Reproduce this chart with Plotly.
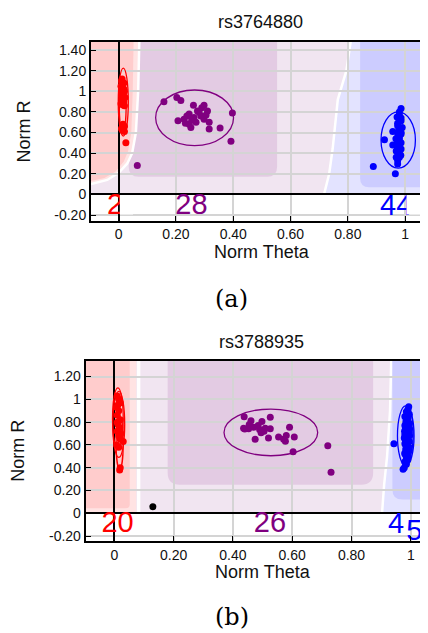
import plotly.graph_objects as go

# page has an 8px body margin: figure is drawn at (8,8) of a 428x633 window
OFF = 8
W, H = 428 - OFF, 633 - OFF

# ---------------- Panel (a): rs3764880 ----------------
A_TITLE = "rs3764880"
A_AA_X = [0.012, 0.018, 0.008, 0.015, 0.020, 0.010, 0.016, 0.022, 0.012, 0.018, 0.008, 0.014, 0.020,
          0.010, 0.016, 0.012, 0.018, 0.015, 0.020, 0.010, 0.014, 0.018, 0.012, 0.020, 0.025]
A_AA_Y = [1.12, 1.08, 1.05, 1.03, 1.00, 0.98, 0.96, 0.94, 0.92, 0.90, 0.88, 0.87, 0.86,
          1.10, 0.95, 0.99, 1.02, 0.68, 0.66, 0.64, 0.62, 0.65, 0.63, 0.61, 0.50]
A_AB_X = [0.158, 0.203, 0.217, 0.261, 0.298, 0.246, 0.275, 0.310, 0.207, 0.228, 0.246, 0.263, 0.287, 0.298,
          0.316, 0.316, 0.252, 0.354, 0.397, 0.392, 0.238, 0.281, 0.270, 0.233, 0.290, 0.255, 0.305, 0.065]
A_AB_Y = [0.900, 0.940, 0.910, 0.866, 0.866, 0.780, 0.810, 0.810, 0.715, 0.730, 0.680, 0.745, 0.760, 0.730,
          0.700, 0.634, 0.650, 0.644, 0.790, 0.515, 0.760, 0.795, 0.700, 0.690, 0.840, 0.720, 0.770, 0.280]
A_BB_X = [0.986, 0.980, 0.980, 0.986, 0.986, 0.974, 0.974, 0.980, 0.957, 0.986, 0.986, 0.980, 0.928, 0.980,
          0.974, 0.986, 0.957, 0.974, 0.986, 0.969, 0.980, 0.969, 0.980, 0.974, 0.974, 0.966, 0.889, 0.980,
          0.975, 0.990, 0.968, 0.985, 0.972, 0.978]
A_BB_Y = [0.834, 0.800, 0.770, 0.740, 0.714, 0.690, 0.666, 0.640, 0.610, 0.600, 0.586, 0.560, 0.531, 0.538,
          0.520, 0.500, 0.480, 0.467, 0.440, 0.420, 0.400, 0.360, 0.360, 0.330, 0.296, 0.200, 0.270, 0.460,
          0.580, 0.650, 0.540, 0.380, 0.750, 0.620]
A_COUNTS = ["2", "28", "44"]
# ellipses: centre x, centre y, half width, half height
A_ELL_CX = [0.016, 0.014, 0.265, 0.976]
A_ELL_CY = [0.896, 0.870, 0.743, 0.528]
A_ELL_RX = [0.0175, 0.012, 0.136, 0.060]
A_ELL_RY = [0.330, 0.270, 0.270, 0.273]
A_ELL_COL = ["red", "red", "purple", "blue"]

# ---------------- Panel (b): rs3788935 ----------------
B_TITLE = "rs3788935"
B_AA_X = [0.010, 0.015, 0.020, 0.008, 0.015, 0.010, 0.020, 0.012, 0.018, 0.010,
          0.015, 0.020, 0.008, 0.030, 0.015, 0.020, 0.018, 0.012, 0.022, 0.010]
B_AA_Y = [1.03, 1.00, 0.97, 0.93, 0.90, 0.86, 0.82, 0.78, 0.75, 0.72,
          0.68, 0.65, 0.60, 0.63, 0.58, 0.40, 0.38, 0.95, 0.70, 0.80]
B_AB_X = [0.438, 0.461, 0.498, 0.526, 0.436, 0.453, 0.470, 0.490, 0.509, 0.526, 0.495, 0.475, 0.520,
          0.554, 0.571, 0.591, 0.580, 0.607, 0.603, 0.720, 0.731, 0.455, 0.485, 0.505, 0.577, 0.440]
B_AB_Y = [0.848, 0.813, 0.805, 0.842, 0.747, 0.741, 0.756, 0.735, 0.747, 0.741, 0.707, 0.649, 0.661,
          0.670, 0.649, 0.756, 0.683, 0.670, 0.540, 0.592, 0.360, 0.780, 0.770, 0.720, 0.632, 0.740]
B_BB_X = [0.993, 0.990, 0.985, 0.995, 0.980, 0.990, 0.985, 0.995, 0.980, 0.990, 0.985, 0.995, 0.980,
          0.990, 0.985, 0.995, 0.980, 0.990, 0.985, 0.995, 0.980, 0.990, 0.985, 0.990, 0.980, 0.985,
          0.974, 0.943, 0.978, 0.992, 0.988, 0.983, 0.996, 0.979, 0.987, 0.991, 0.982, 0.994, 0.978,
          0.986, 0.990, 0.983, 0.996, 0.980, 0.988]
B_BB_Y = [0.934, 0.910, 0.890, 0.870, 0.850, 0.830, 0.810, 0.790, 0.770, 0.750, 0.730, 0.710, 0.690,
          0.670, 0.650, 0.630, 0.610, 0.590, 0.570, 0.550, 0.530, 0.510, 0.490, 0.470, 0.450, 0.430,
          0.387, 0.610, 0.400, 0.760, 0.640, 0.560, 0.680, 0.720, 0.840, 0.500, 0.620, 0.580, 0.660,
          0.800, 0.900, 0.460, 0.740, 0.520, 0.700]
B_NC_X = [0.130]
B_NC_Y = [0.058]
B_COUNTS = ["20", "26", "4", "5"]
B_ELL_CX = [0.012, 0.018, 0.015, 0.528, 0.983, 0.990]
B_ELL_CY = [0.830, 0.620, 0.780, 0.710, 0.680, 0.700]
B_ELL_RX = [0.018, 0.012, 0.020, 0.158, 0.028, 0.018]
B_ELL_RY = [0.270, 0.230, 0.290, 0.205, 0.263, 0.220]
B_ELL_COL = ["red", "red", "red", "purple", "blue", "blue"]

X_TICKS = [0, 0.2, 0.4, 0.6, 0.8, 1]
X_LABELS = ["0", "0.20", "0.40", "0.60", "0.80", "1"]
A_Y_TICKS = [-0.2, 0, 0.2, 0.4, 0.6, 0.8, 1, 1.2, 1.4]
A_Y_LABELS = ["-0.20", "0", "0.20", "0.40", "0.60", "0.80", "1", "1.20", "1.40"]
B_Y_TICKS = [-0.2, 0, 0.2, 0.4, 0.6, 0.8, 1, 1.2]
B_Y_LABELS = ["-0.20", "0", "0.20", "0.40", "0.60", "0.80", "1", "1.20"]

# ---------------- layout geometry (reference pixel coords) ----------------
def px_x(px):
    return (px - OFF) / W

def px_y(py):
    return 1 - (py - OFF) / H

A_XR = [-0.0967, 1.080]
A_YR = [-0.255, 1.483]
B_XR = [-0.0965, 1.058]
B_YR = [-0.247, 1.340]
A_DOM_X = [px_x(91), 1.0]
A_DOM_Y = [px_y(221.7), px_y(41.7)]
B_DOM_X = [px_x(85.7), 1.0]
B_DOM_Y = [px_y(544), px_y(362.3)]

def scale(xr, yr, dx, dy):
    return (W * (dx[1] - dx[0])) / (xr[1] - xr[0]), (H * (dy[1] - dy[0])) / (yr[1] - yr[0])

A_SX, A_SY = scale(A_XR, A_YR, A_DOM_X, A_DOM_Y)
B_SX, B_SY = scale(B_XR, B_YR, B_DOM_X, B_DOM_Y)

RED_BG = "#FFCCCC"
PINK_BG = "#FFE3E3"
PURPLE_BG = "#E3CBE3"
LAV_BG = "#F1E5F1"
BLUE_BG = "#CCCCFF"
LBLUE_BG = "#E3E3FF"

FONT = "Liberation Sans, Arial, sans-serif"

shapes = []

def poly(pts):
    return "M " + " L ".join(f"{x},{y}" for x, y in pts) + " Z"

def line_path(pts):
    return "M " + " L ".join(f"{x},{y}" for x, y in pts)

def rrect(x0, x1, y0, y1, rx, ry, left=True, right=True):
    p = f"M {x0},{y1} "
    p += f"L {x0},{y0 + ry} Q {x0},{y0} {x0 + rx},{y0} " if left else f"L {x0},{y0} "
    p += f"L {x1 - rx},{y0} Q {x1},{y0} {x1},{y0 + ry} " if right else f"L {x1},{y0} "
    p += f"L {x1},{y1} Z"
    return p

def add_fill(path, color, xr, yr):
    shapes.append(dict(type="path", path=path, fillcolor=color, line=dict(width=0),
                       xref=xr, yref=yr, layer="below"))

def add_line(path, color, width, xr, yr):
    shapes.append(dict(type="path", path=path, line=dict(color=color, width=width),
                       xref=xr, yref=yr, layer="below"))

# ---- background regions (a) ----
L, R, T = A_XR[0], A_XR[1], A_YR[1]
add_fill(poly([(L, 0), (R, 0), (R, T), (L, T)]), LAV_BG, "x", "y")
add_fill(rrect(0.035, 0.553, 0.17, T, 10 / A_SX, 10 / A_SY), PURPLE_BG, "x", "y")
a_pink = [(L, T), (0.072, T), (0.068, 1.0), (0.060, 0.6), (0.047, 0.40), (0.030, 0.30),
          (0.0, 0.21), (-0.04, 0.14), (L, 0.10)]
a_red = [(L, T), (0.052, T), (0.049, 1.0), (0.044, 0.6), (0.033, 0.42), (0.018, 0.32),
         (-0.012, 0.22), (-0.05, 0.16), (L, 0.13)]
add_fill(poly(a_pink), PINK_BG, "x", "y")
add_fill(poly(a_red), RED_BG, "x", "y")
add_line(line_path(a_pink[1:]), "white", 2.5, "x", "y")
a_lb = [(0.81, T), (0.795, 1.2), (0.765, 0.92), (0.747, 0.44), (0.735, 0.2), (0.717, 0)]
add_fill(poly(a_lb + [(R, 0), (R, T)]), LBLUE_BG, "x", "y")
add_line(line_path(a_lb), "white", 2.5, "x", "y")
add_fill(rrect(0.843, R + 0.05, 0.07, T, 9 / A_SX, 9 / A_SY, right=False), BLUE_BG, "x", "y")

# ---- background regions (b) ----
L, R, T = B_XR[0], B_XR[1], B_YR[1]
add_fill(poly([(L, 0), (R, 0), (R, T), (L, T)]), LAV_BG, "x2", "y2")
add_fill(rrect(0.18, 0.873, 0.25, T, 12 / B_SX, 12 / B_SY), PURPLE_BG, "x2", "y2")
add_fill(poly([(L, 0.0), (0.074, 0.0), (0.074, T), (L, T)]), PINK_BG, "x2", "y2")
add_fill(rrect(L - 0.05, 0.052, 0.045, T, 4 / B_SX, 4 / B_SY, left=False), RED_BG, "x2", "y2")
add_line(line_path([(0.082, T), (0.082, 0.0)]), "white", 3.5, "x2", "y2")
b_lb = [(0.934, T), (0.93, 0.9), (0.92, 0.5), (0.91, 0.25), (0.903, 0)]
add_fill(poly(b_lb + [(R, 0), (R, T)]), LBLUE_BG, "x2", "y2")
add_line(line_path(b_lb), "white", 2.5, "x2", "y2")
add_fill(rrect(0.938, R + 0.05, 0.12, T, 10 / B_SX, 10 / B_SY, right=False), BLUE_BG, "x2", "y2")

# ---- cluster ellipses ----
for cx, cy, rx, ry, col in zip(A_ELL_CX, A_ELL_CY, A_ELL_RX, A_ELL_RY, A_ELL_COL):
    shapes.append(dict(type="circle", xref="x", yref="y", x0=cx - rx, x1=cx + rx, y0=cy - ry, y1=cy + ry,
                       line=dict(color=col, width=1.3), layer="above"))
for cx, cy, rx, ry, col in zip(B_ELL_CX, B_ELL_CY, B_ELL_RX, B_ELL_RY, B_ELL_COL):
    shapes.append(dict(type="circle", xref="x2", yref="y2", x0=cx - rx, x1=cx + rx, y0=cy - ry, y1=cy + ry,
                       line=dict(color=col, width=1.3), layer="above"))

# clipping masks for truncated count labels in (a)
shapes.append(dict(type="rect", xref="x", yref="y", x0=0.004, x1=0.05, y0=-0.195, y1=-0.006,
                   fillcolor="white", line=dict(width=0), layer="above"))
shapes.append(dict(type="rect", xref="x", yref="y", x0=1.005, x1=A_XR[1], y0=-0.195, y1=-0.006,
                   fillcolor="white", line=dict(width=0), layer="above"))

fig = go.Figure()

def pts(x, y, col, xa, ya):
    fig.add_trace(go.Scatter(x=x, y=y, mode="markers", xaxis=xa, yaxis=ya, hoverinfo="skip",
                             marker=dict(color=col, size=7, line=dict(width=0)), showlegend=False))

pts(A_AA_X, A_AA_Y, "red", "x", "y")
pts(A_AB_X, A_AB_Y, "purple", "x", "y")
pts(A_BB_X, A_BB_Y, "blue", "x", "y")
pts(B_AA_X, B_AA_Y, "red", "x2", "y2")
pts(B_AB_X, B_AB_Y, "purple", "x2", "y2")
pts(B_BB_X, B_BB_Y, "blue", "x2", "y2")
pts(B_NC_X, B_NC_Y, "black", "x2", "y2")

# count labels (text traces so the masks can clip them)
A_CNT_POS_X = [-0.013, 0.254, 0.969]
A_CNT_POS_Y = [-0.122, -0.122, -0.128]
B_CNT_POS_X = [0.011, 0.525, 0.950, 1.012]
B_CNT_POS_Y = [-0.104, -0.104, -0.110, -0.172]
for t, x, y, c in zip(A_COUNTS, A_CNT_POS_X, A_CNT_POS_Y, ["red", "purple", "blue"]):
    fig.add_trace(go.Scatter(x=[x], y=[y], mode="text", text=[t], xaxis="x", yaxis="y", hoverinfo="skip",
                             textfont=dict(family=FONT, size=29, color=c), showlegend=False, cliponaxis=False))
for t, x, y, c in zip(B_COUNTS, B_CNT_POS_X, B_CNT_POS_Y, ["red", "purple", "blue", "blue"]):
    fig.add_trace(go.Scatter(x=[x], y=[y], mode="text", text=[t], xaxis="x2", yaxis="y2", hoverinfo="skip",
                             textfont=dict(family=FONT, size=29, color=c), showlegend=False, cliponaxis=False))

axis_common = dict(showgrid=True, gridcolor="#D4D4D4", gridwidth=1.5, zeroline=True, zerolinecolor="black",
                   zerolinewidth=1.5, showline=True, linecolor="black", linewidth=2, ticks="inside",
                   ticklen=5, tickcolor="black", tickfont=dict(family=FONT, size=14, color="#111"))

fig.update_layout(
    width=W, height=H, autosize=False, margin=dict(l=0, r=0, t=0, b=0),
    paper_bgcolor="white", plot_bgcolor="white", showlegend=False, shapes=shapes,
    xaxis=dict(domain=A_DOM_X, range=A_XR, tickvals=X_TICKS, ticktext=X_LABELS, anchor="y", mirror=True,
               **axis_common),
    yaxis=dict(domain=A_DOM_Y, range=A_YR, tickvals=A_Y_TICKS, ticktext=A_Y_LABELS, anchor="x", **axis_common),
    xaxis2=dict(domain=B_DOM_X, range=B_XR, tickvals=X_TICKS, ticktext=X_LABELS, anchor="y2", mirror=True,
                **axis_common),
    yaxis2=dict(domain=B_DOM_Y, range=B_YR, tickvals=B_Y_TICKS, ticktext=B_Y_LABELS, anchor="x2",
                **axis_common),
)

def ann(text, px, py, size, family=FONT, angle=0, color="#111"):
    fig.add_annotation(text=text, x=px_x(px), y=px_y(py), xref="paper", yref="paper", showarrow=False,
                       xanchor="center", yanchor="middle", textangle=angle,
                       font=dict(family=family, size=size, color=color))

ann(A_TITLE, 260, 22, 18)
ann(B_TITLE, 261, 344, 18)
ann("Norm Theta", 262, 253, 18)
ann("Norm Theta", 263, 575, 18)
ann("Norm R", 24, 132, 18, angle=-90)
ann("Norm R", 18, 453, 18, angle=-90)
ann("(a)", 231, 300, 24, family="DejaVu Serif, serif", color="#000")
ann("(b)", 232, 620, 24, family="DejaVu Serif, serif", color="#000")

fig.write_html("out.html")
